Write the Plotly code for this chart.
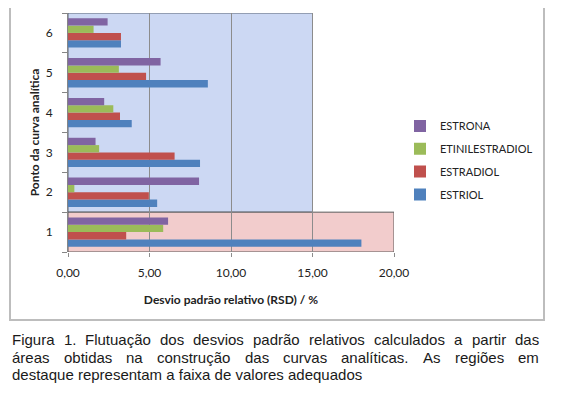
import plotly.graph_objects as go

# ---------------- data ----------------
categories = ["1", "2", "3", "4", "5", "6"]
estriol = [18.00, 5.47, 8.10, 3.91, 8.58, 3.25]
estradiol = [3.57, 4.96, 6.54, 3.19, 4.79, 3.25]
etinilestradiol = [5.84, 0.39, 1.91, 2.78, 3.12, 1.57]
estrona = [6.14, 8.04, 1.69, 2.22, 5.68, 2.43]

series_names = ["ESTRIOL", "ESTRADIOL", "ETINILESTRADIOL", "ESTRONA"]
series_values = [estriol, estradiol, etinilestradiol, estrona]
series_colors = ["#4F81BD", "#C0504D", "#9BBB59", "#8064A2"]
legend_ranks = [4, 3, 2, 1]

x_title = "Desvio padrão relativo (RSD) / %"
y_title = "Ponto da curva analítica"
caption_lines = [
    "Figura 1. Flutuação dos desvios padrão relativos calculados a partir das",
    "áreas obtidas na construção das curvas analíticas. As regiões em",
    "destaque representam a faixa de valores adequados",
]

# ---------------- layout geometry ----------------
# page body has an 8px default margin: the figure is offset by OFF px
OFF = 8
W, H = 570 - OFF, 393 - OFF
ML, MR, MT, MB = 68 - OFF, 176, 13 - OFF, 141
PW, PH = W - ML - MR, H - MT - MB


def px_x(px):
    return (px - OFF - ML) / PW


def px_y(py):
    return (H - MB - (py - OFF)) / PH


fig = go.Figure()
for name, vals, col, rk in zip(series_names, series_values, series_colors, legend_ranks):
    fig.add_trace(go.Bar(
        y=categories, x=vals, name=name, orientation="h", legendgroup=name,
        legendrank=rk,
        marker=dict(color=col, line=dict(width=0)),
    ))

# highlighted regions
fig.add_shape(type="rect", xref="x", yref="y", x0=0, x1=15, y0=0.5, y1=5.5,
              fillcolor="#CCD8F3", line=dict(color="#5A6475", width=1), layer="below")
fig.add_shape(type="rect", xref="x", yref="y", x0=0, x1=20, y0=-0.5, y1=0.5,
              fillcolor="#F2CCCC", line=dict(color="#5A5A5A", width=1), layer="below")

# outer chart frame
fig.add_shape(type="rect", xref="paper", yref="paper",
              x0=px_x(10), x1=px_x(544), y0=px_y(320), y1=px_y(2),
              line=dict(color="#BDBDBD", width=2), fillcolor="rgba(0,0,0,0)", layer="below")

# caption (justified lines)
AW = {' ': 278, '.': 278, '1': 556, 'a': 556, 'b': 556, 'c': 500, 'd': 556, 'e': 556,
      'f': 278, 'g': 556, 'h': 556, 'i': 222, 'j': 222, 'k': 500, 'l': 222, 'm': 833,
      'n': 556, 'o': 556, 'p': 556, 'q': 556, 'r': 333, 's': 500, 't': 278, 'u': 556,
      'v': 500, 'w': 722, 'x': 500, 'y': 500, 'z': 500, 'A': 667, 'F': 611,
      'á': 556, 'ã': 556, 'ç': 500, 'í': 278, 'õ': 556, 'é': 556}
CAP_SIZE = 15
CAP_LEFT, CAP_RIGHT = 11, 538
cap_y = [339.5, 357, 374.5]
cap_font = dict(family="Liberation Sans, Arial", size=CAP_SIZE, color="#1a1a1a")


def tw(s):
    return sum(AW.get(c, 556) for c in s) / 1000 * CAP_SIZE


for i, line in enumerate(caption_lines):
    if i < 2:
        words = line.split(" ")
        total = sum(tw(w) for w in words)
        gap = (CAP_RIGHT - CAP_LEFT - total) / (len(words) - 1)
        pos = CAP_LEFT
        for w in words:
            fig.add_annotation(text=w, xref="paper", yref="paper", x=px_x(pos), y=px_y(cap_y[i]),
                               xanchor="left", yanchor="middle", showarrow=False,
                               font=cap_font, borderpad=0)
            pos += tw(w) + gap
    else:
        fig.add_annotation(text=line, xref="paper", yref="paper", x=px_x(CAP_LEFT), y=px_y(cap_y[i]),
                           xanchor="left", yanchor="middle", showarrow=False,
                           font=cap_font, borderpad=0)

FONT = "Lato, Open Sans, sans-serif"
axis_font = dict(family=FONT, size=12, color="#222")

fig.update_layout(
    width=W, height=H,
    margin=dict(l=ML, r=MR, t=MT, b=MB, pad=0, autoexpand=False),
    paper_bgcolor="white", plot_bgcolor="white",
    barmode="group", bargap=0.265, bargroupgap=0,
    separators=", ",
    showlegend=True,
    legend=dict(x=px_x(400), y=px_y(160.5), xanchor="left", yanchor="middle",
                traceorder="grouped", tracegroupgap=3.8,
                font=dict(family=FONT, size=11, color="#222"),
                bgcolor="rgba(0,0,0,0)", itemclick=False),
    xaxis=dict(range=[0, 20], dtick=5, tick0=0, tickformat=".2f", automargin=False,
               showgrid=True, gridcolor="#8C8C8C", gridwidth=1,
               zeroline=False, showline=False,
               ticks="outside", ticklen=4, tickcolor="#8C8C8C",
               ticklabelstandoff=6, tickfont=axis_font,
               title=dict(text="<b>" + x_title + "</b>", font=dict(family=FONT, size=12, color="#222"), standoff=16)),
    yaxis=dict(type="category", categoryorder="array", categoryarray=categories,
               range=[-0.5, 5.5], tickson="boundaries", automargin=False,
               showgrid=False, zeroline=False,
               showline=True, linecolor="#868686", linewidth=1,
               ticks="outside", ticklen=5, tickcolor="#868686",
               ticklabelstandoff=12, tickfont=axis_font,
               title=dict(text="<b>" + y_title + "</b>", font=dict(family=FONT, size=12, color="#222"), standoff=3)),
)

fig.write_html("out.html")
